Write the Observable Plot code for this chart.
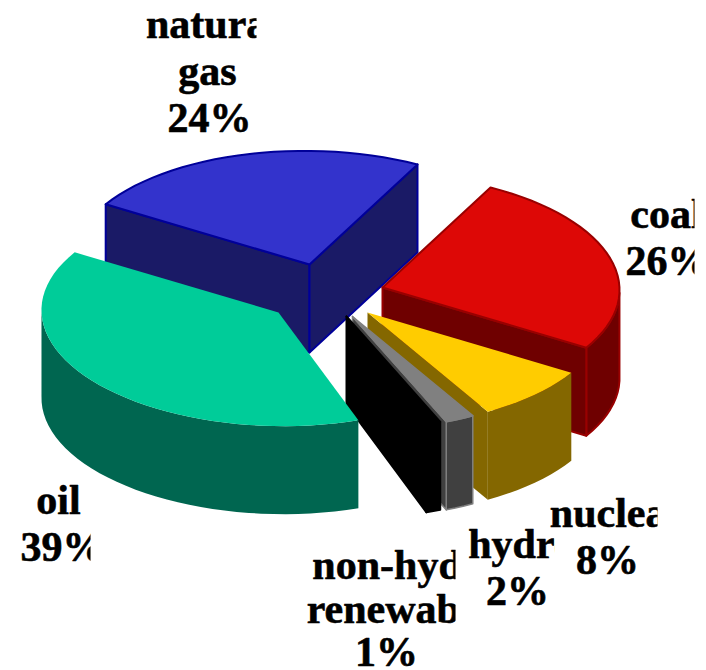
<!DOCTYPE html>
<html><head><meta charset="utf-8">
<script src="https://cdn.jsdelivr.net/npm/d3@7"></script>
<script src="https://cdn.jsdelivr.net/npm/@observablehq/plot@0.6"></script>
<style>html,body{margin:0;padding:0;background:#fff}svg{display:block}</style>
</head><body><div id="chart"></div>
<script>
// Data: clockwise from the top boundary between natural gas and coal
const sources = ["coal", "nuclear", "hydro", "non-hydro renewable", "oil", "natural gas"];
const shares = [26, 8, 2, 1, 39, 24];

// Styling and exploded-pie layout
const apex = {"coal":[382,287],"nuclear":[367,312],"hydro":[352,316],"non-hydro renewable":[346,316],"oil":[278,312],"natural gas":[309,264]};
const tops = {"coal":"#dd0806","nuclear":"#ffcc00","hydro":"#808080","non-hydro renewable":"#000000","oil":"#00cc99","natural gas":"#3333cc"};
const walls = {"coal":"#6f0000","nuclear":"#846700","hydro":"#404040","non-hydro renewable":"#000000","oil":"#006650","natural gas":"#1a1a66"};
const edges = {"coal":"#990000","nuclear":"none","hydro":"#808080","non-hydro renewable":"#000000","oil":"none","natural gas":"#000099"};
const drawOrder = ["natural gas","coal","nuclear","hydro","non-hydro renewable","oil"];
const axisA = [108,-100], axisB = [211,54], depth = 88;

const at = (s,deg) => {
  const r = deg*Math.PI/180, [cx,cy] = apex[s];
  return {x: cx+axisA[0]*Math.cos(r)+axisB[0]*Math.sin(r), y: cy+axisA[1]*Math.cos(r)+axisB[1]*Math.sin(r)};
};
const cum = d3.cumsum(shares);
const arcs = new Map(sources.map((s,i)=>{
  const a0=(i?cum[i-1]:0)*3.6, a1=cum[i]*3.6, n=Math.max(2,Math.ceil((a1-a0)/3));
  return [s,d3.range(n+1).map(k=>at(s,a0+(a1-a0)*k/n))];
}));
const close = p => [...p,p[0]];
const down = p => ({x:p.x,y:p.y+depth});
const polys = [];
for (const s of drawOrder) {
  const pts = arcs.get(s), c = {x:apex[s][0],y:apex[s][1]};
  const e = edges[s], sw = e==="none"?0:(s==="hydro"?1.5:2);
  // walls facing the viewer: edges running right-to-left on a clockwise outline
  let run = [];
  for (let i=0;i<pts.length;i++){
    if (i<pts.length-1 && pts[i+1].x<pts[i].x) { if(!run.length) run.push(pts[i]); run.push(pts[i+1]); }
    else if (run.length){ polys.push({pts:close([...run,...[...run].reverse().map(down)]),fill:walls[s],stroke:e,sw}); run=[]; }
  }
  const first = pts[0], last = pts[pts.length-1];
  if (first.x<c.x) polys.push({pts:close([c,first,down(first),down(c)]),fill:walls[s],stroke:e,sw});
  if (c.x<last.x) polys.push({pts:close([last,c,down(c),down(last)]),fill:walls[s],stroke:e,sw});
  polys.push({pts:close([c,...pts]),fill:tops[s],stroke:e,sw});
}

// Label lines
const labelLines = ["natural","gas","24%","coal","26%","oil","39%","non-hydro","renewable","1%","hydro","2%","nuclear","8%"];
const labelX = [212,207,209,666,667,58,62,406,398,386,521,517,617,607];
const labelY = [37,84,131,227,274,513,560,578,622,665,557,604,526,573];
const labelClip = [256,999,999,694,694,90,90,455,455,999,554,999,657,999];
const labels = labelLines.map((t,i)=>({t,x:labelX[i],y:labelY[i]}));

const plot = Plot.plot({
  width:706,height:670,margin:0,
  x:{domain:[0,706],range:[0,706],axis:null},
  y:{domain:[0,670],range:[0,670],axis:null},
  marks:[
    ...polys.map(p=>Plot.line(p.pts,{x:"x",y:"y",fill:p.fill,stroke:p.stroke,strokeWidth:p.sw,curve:"linear"})),
    Plot.text(labels,{x:"x",y:"y",text:"t",fontFamily:"Liberation Serif",fontWeight:"bold",fontSize:42,fill:"#000",stroke:"#000",strokeWidth:0.6,textAnchor:"middle",lineAnchor:"bottom"})
  ]
});
// The reference cuts several labels off at their box edge
const defs = d3.select(plot).append("defs");
d3.select(plot).selectAll("text").each(function(_,i){
  const lim = labelClip[i];
  if (lim>=999) return;
  const id="lab"+i;
  defs.append("clipPath").attr("id",id).append("rect").attr("x",0).attr("y",0).attr("width",lim).attr("height",670);
  const g=document.createElementNS("http://www.w3.org/2000/svg","g");
  g.setAttribute("clip-path",`url(#${id})`);
  this.parentNode.insertBefore(g,this); g.appendChild(this);
});
document.getElementById("chart").append(plot);
</script></body></html>
